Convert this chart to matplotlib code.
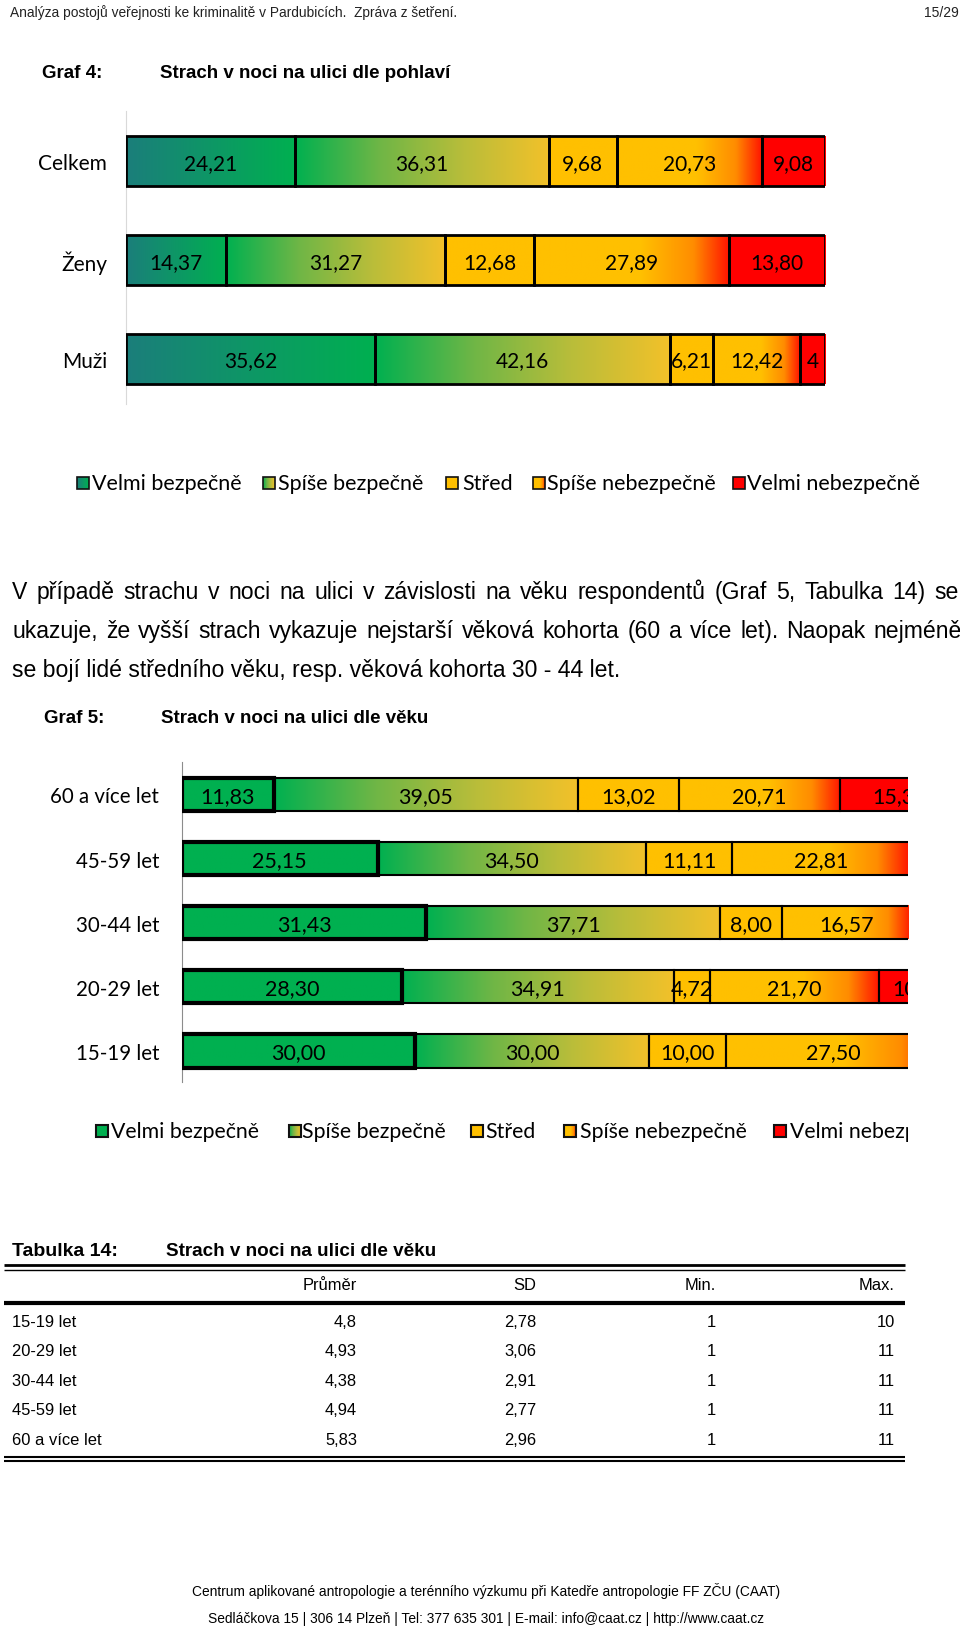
import numpy as np
import matplotlib
matplotlib.use("Agg")
import matplotlib.pyplot as plt
from matplotlib.colors import LinearSegmentedColormap
from matplotlib.patches import Rectangle

W, H = 960, 1631

# data read from the page
levels = ["Velmi bezpečně", "Spíše bezpečně", "Střed", "Spíše nebezpečně", "Velmi nebezpečně"]

sex_groups = ["Celkem", "Ženy", "Muži"]
celkem = [24.21, 36.31, 9.68, 20.73, 9.08]
zeny = [14.37, 31.27, 12.68, 27.89, 13.80]
muzi = [35.62, 42.16, 6.21, 12.42, 3.59]
muzi_last_label = "4"  # label shown on the small red piece

age_groups = ["60 a více let", "45-59 let", "30-44 let", "20-29 let", "15-19 let"]
age_60 = [11.83, 39.05, 13.02, 20.71, 15.39]
age_45 = [25.15, 34.50, 11.11, 22.81, 6.43]
age_30 = [31.43, 37.71, 8.00, 16.57, 6.29]
age_20 = [28.30, 34.91, 4.72, 21.70, 10.37]
age_15 = [30.00, 30.00, 10.00, 27.50, 2.50]

table_rows = ["15-19 let", "20-29 let", "30-44 let", "45-59 let", "60 a více let"]
table_cols = ["Průměr", "SD", "Min.", "Max."]
prumer = [4.8, 4.93, 4.38, 4.94, 5.83]
sd = [2.78, 3.06, 2.91, 2.77, 2.96]
minima = [1, 1, 1, 1, 1]
maxima = [10, 11, 11, 11, 11]

DOC = ["Liberation Sans", "DejaVu Sans"]
CHART = ["Lato", "DejaVu Sans"]

# gradient fills (Excel style)
spise_bezp = ["#00b050", "#6fb646", "#b9bd3a", "#f2c12a"]
spise_nebezp = [(0, "#ffc000"), (0.55, "#ffc000"), (0.82, "#ff8c00"), (1, "#ff1500")]
fills1 = [["#1b7e7b", "#00b050"], spise_bezp, ["#ffc000", "#ffc000"], spise_nebezp, ["#ff0000", "#ff0000"]]
fills2 = [["#00b050", "#00b050"], spise_bezp, ["#ffc000", "#ffc000"], spise_nebezp, ["#ff0000", "#ff0000"]]
cmaps1 = [LinearSegmentedColormap.from_list("c1_%d" % k, c) for k, c in enumerate(fills1)]
cmaps2 = [LinearSegmentedColormap.from_list("c2_%d" % k, c) for k, c in enumerate(fills2)]
grad = np.linspace(0, 1, 256).reshape(1, -1)


def fmt(v):
    return ("%s" % v).replace(".", ",")


def fmt2(v):
    return ("%.2f" % v).replace(".", ",")


def px_axes(l, t, r, b):
    return fig.add_axes([l / W, 1 - b / H, (r - l) / W, (b - t) / H])


def stacked(ax, rows, cmaps, h, lw, lw_first, fs, labels=None, xmax=100):
    for i, vals in enumerate(rows):
        lefts = np.concatenate([[0], np.cumsum(vals)[:-1]])
        for j, v in enumerate(vals):
            ax.imshow(grad, cmap=cmaps[j], extent=(lefts[j], lefts[j] + v, i + h / 2, i - h / 2),
                      aspect="auto", interpolation="bilinear", zorder=1)
            if lefts[j] >= xmax:
                continue  # piece lies past the cut edge
            txt = labels[i][j] if labels is not None else fmt2(v)
            ax.text(lefts[j] + v / 2, i + 0.02, txt, ha="center", va="center", fontsize=fs,
                    family=CHART, color="black", zorder=4, clip_on=True)
        widths = [lw_first] + [lw] * (len(vals) - 1)
        ax.barh([i] * len(vals), vals, left=lefts, height=h, color="none",
                edgecolor="black", linewidth=widths, zorder=3)


def justified(ax, x0, x1, y, line, fs):
    # word by word, spread to the full text width
    rend = fig.canvas.get_renderer()
    words = line.split(" ")
    items = [ax.text(0, y, w, fontsize=fs, family=DOC, va="baseline") for w in words]
    widths = [t.get_window_extent(rend).width for t in items]
    gap = (x1 - x0 - sum(widths)) / (len(words) - 1)
    x = x0
    for t, w in zip(items, widths):
        t.set_x(x)
        x += w + gap


fig = plt.figure(figsize=(W / 100, H / 100), dpi=100)

# page layer in pixel coordinates
page = fig.add_axes([0, 0, 1, 1])
page.set_xlim(0, W)
page.set_ylim(H, 0)
page.axis("off")

page.text(10, 13, "Analýza postojů veřejnosti ke kriminalitě v Pardubicích.  Zpráva z šetření.",
          fontsize=9.9, family=DOC, va="center", color="#222222")
page.text(959, 13, "15/29", fontsize=10, family=DOC, va="center", ha="right", color="#222222")

page.text(42, 73, "Graf 4:", fontsize=13.5, family=DOC, weight="bold", va="center")
page.text(160, 73, "Strach v noci na ulici dle pohlaví", fontsize=13.5, family=DOC, weight="bold", va="center")

para = ["V případě strachu v noci na ulici v závislosti na věku respondentů (Graf 5, Tabulka 14) se",
        "ukazuje, že vyšší strach vykazuje nejstarší věková kohorta (60 a více let). Naopak nejméně",
        "se bojí lidé středního věku, resp. věková kohorta 30 - 44 let."]
justified(page, 12, 959, 599, para[0], 16.6)
justified(page, 12, 962, 638, para[1], 16.6)
page.text(12, 677, para[2], fontsize=16.6, family=DOC, va="baseline")

page.text(44, 719, "Graf 5:", fontsize=13.5, family=DOC, weight="bold", va="center")
page.text(161, 719, "Strach v noci na ulici dle věku", fontsize=13.5, family=DOC, weight="bold", va="center")

# chart 1 legend
sq1 = [77, 263, 446, 533, 733]
tx1 = [92, 278, 462, 547, 747]
for k, name in enumerate(levels):
    page.imshow(grad, cmap=cmaps1[k], extent=(sq1[k], sq1[k] + 12, 490, 478), aspect="auto", zorder=2)
    page.add_patch(Rectangle((sq1[k], 478), 12, 12, fill=False, edgecolor="#111111", lw=1.2, zorder=3))
    page.text(tx1[k], 484, name, fontsize=15.5, family=CHART, va="center")

# table
page.text(12, 1252, "Tabulka 14:", fontsize=14, family=DOC, weight="bold", va="center")
page.text(166, 1252, "Strach v noci na ulici dle věku", fontsize=13.6, family=DOC, weight="bold", va="center")
page.hlines(1266, 4, 905, color="black", lw=2)
page.hlines(1270.5, 4, 905, color="black", lw=1)
col_x = [357, 536, 716, 895]
for c, name in enumerate(table_cols):
    page.text(col_x[c], 1286, name, fontsize=11.9, family=DOC, ha="right", va="center")
page.hlines(1304, 4, 905, color="black", lw=3)
row_y = [1323, 1352, 1382, 1411, 1441]
for r, name in enumerate(table_rows):
    page.text(12, row_y[r], name, fontsize=11.9, family=DOC, va="center")
    cells = [fmt(prumer[r]), fmt2(sd[r]), str(minima[r]), str(maxima[r])]
    for c, val in enumerate(cells):
        page.text(col_x[c], row_y[r], val, fontsize=11.9, family=DOC, ha="right", va="center")
page.hlines(1458, 4, 905, color="black", lw=1.5)
page.hlines(1462, 4, 905, color="black", lw=1.5)

page.text(486, 1591, "Centrum aplikované antropologie a terénního výzkumu při Katedře antropologie FF ZČU (CAAT)",
          fontsize=9.9, family=DOC, ha="center", va="center")
page.text(486, 1619, "Sedláčkova 15 | 306 14 Plzeň | Tel: 377 635 301 | E-mail: info@caat.cz | http://www.caat.cz",
          fontsize=9.9, family=DOC, ha="center", va="center")
page.set_xlim(0, W)
page.set_ylim(H, 0)

# chart 1: by sex
ax1 = px_axes(126, 112, 825, 405)
labels1 = [[fmt2(v) for v in celkem], [fmt2(v) for v in zeny], [fmt2(v) for v in muzi[:-1]] + [muzi_last_label]]
stacked(ax1, [celkem, zeny, muzi], cmaps1, 0.506, 2.0, 2.0, 15, labels1)
ax1.set_xlim(0, 100)
ax1.set_ylim(2.46, -0.506)
ax1.set_yticks(range(len(sex_groups)))
ax1.set_yticklabels(sex_groups, fontsize=15, family=CHART)
ax1.tick_params(axis="y", length=0, pad=13.5)
ax1.set_xticks([])
for s in ["top", "right", "bottom"]:
    ax1.spines[s].set_visible(False)
ax1.spines["left"].set_color("#d9d9d9")
ax1.patch.set_alpha(0)

# chart 2: by age (right side cut off as on the page)
cut = 93.35
ax2 = px_axes(182, 763, 908, 1083)
stacked(ax2, [age_60, age_45, age_30, age_20, age_15], cmaps2, 0.52, 1.5, 3.0, 15.5, xmax=cut)
ax2.set_xlim(0, cut)
ax2.set_ylim(4.485, -0.507)
ax2.set_yticks(range(len(age_groups)))
ax2.set_yticklabels(age_groups, fontsize=14.8, family=CHART)
ax2.tick_params(axis="y", length=0, pad=16.5)
ax2.set_xticks([])
for s in ["top", "right", "bottom"]:
    ax2.spines[s].set_visible(False)
ax2.spines["left"].set_color("#8c8c8c")
ax2.patch.set_alpha(0)

# chart 2 legend, clipped at the same edge
lg2 = px_axes(0, 1115, 908, 1150)
lg2.set_xlim(0, 908)
lg2.set_ylim(1150, 1115)
lg2.axis("off")
sq2 = [96, 289, 471, 564, 774]
tx2 = [111, 302, 485, 580, 790]
for k, name in enumerate(levels):
    lg2.imshow(grad, cmap=cmaps2[k], extent=(sq2[k], sq2[k] + 12, 1138, 1126), aspect="auto", zorder=2)
    lg2.add_patch(Rectangle((sq2[k], 1126), 12, 12, fill=False, edgecolor="#111111", lw=1.5, zorder=3))
    lg2.text(tx2[k], 1132, name, fontsize=15.3, family=CHART, va="center", clip_on=True)
lg2.set_xlim(0, 908)
lg2.set_ylim(1150, 1115)

fig.savefig("out.png", dpi=100)
